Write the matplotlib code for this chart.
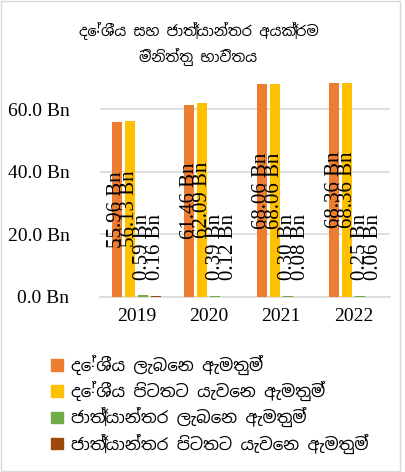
import numpy as np
import matplotlib
matplotlib.use("Agg")
import matplotlib.pyplot as plt
from matplotlib import font_manager
from matplotlib.patches import Patch, Rectangle

# Datos (miles de millones)
years = ["2019", "2020", "2021", "2022"]
dom_in = [55.96, 61.46, 68.06, 68.36]
dom_out = [56.13, 62.09, 68.06, 68.36]
intl_in = [0.59, 0.39, 0.30, 0.25]
intl_out = [0.16, 0.12, 0.08, 0.06]
series_names = [
    "දේශීය ලැබෙන ඇමතුම්",
    "දේශීය පිටතට යැවෙන ඇමතුම්",
    "ජාත්‍යාන්තර ලැබෙන ඇමතුම්",
    "ජාත්‍යාන්තර පිටතට යැවෙන ඇමතුම්",
]
title = "දේශීය සහ ජාත්‍යාන්තර අයක්‍රම\nමිනිත්තු භාවිතය"
colors = ["#ED7D31", "#FFC000", "#70AD47", "#9E480E"]

# Buscar una fuente con glifos cingaleses
sinhala_fams = []
for f in font_manager.fontManager.ttflist:
    if "sinhala" in f.name.lower() and f.name not in sinhala_fams:
        sinhala_fams.append(f.name)
text_family = sinhala_fams + ["DejaVu Sans"]
serif = "Liberation Serif"

fig = plt.figure(figsize=(4.05, 4.72), dpi=100)
ax = fig.add_axes([0.247, 0.371, 0.716, 0.464])

x = np.arange(len(years))
step = 0.18
width = 0.14
data = [dom_in, dom_out, intl_in, intl_out]
for k, (vals, col) in enumerate(zip(data, colors)):
    pos = x + (k - 1.5) * step
    ax.bar(pos, vals, width=width, color=col, zorder=3)
    for p, v in zip(pos, vals):
        ax.text(p, max(v / 2, 16), f"{v:.2f} Bn", rotation=90,
                ha="center", va="center", fontsize=15, family=serif, zorder=4)

ax.set_ylim(0, 70)
ax.set_xlim(-0.5, 3.5)
ax.set_yticks([0, 20, 40, 60])
ax.set_yticklabels([f"{t:.1f} Bn" for t in [0, 20, 40, 60]], family=serif, fontsize=14)
ax.set_xticks(x)
ax.set_xticklabels(years, family=serif, fontsize=14)
ax.tick_params(axis="y", length=0, pad=22)
ax.tick_params(axis="x", length=0, pad=8)
ax.grid(axis="y", color="#d9d9d9", linewidth=1.2, zorder=0)
for s in ["top", "right", "left"]:
    ax.spines[s].set_visible(False)
ax.spines["bottom"].set_color("#d9d9d9")
ax.spines["bottom"].set_linewidth(1.2)

fig.text(0.49, 0.907, title, ha="center", va="center", fontsize=10.5,
         family=text_family, linespacing=1.6)

handles = [Patch(color=c) for c in colors]
fig.legend(handles, series_names, loc="upper left", bbox_to_anchor=(0.11, 0.262),
           frameon=False, prop={"family": text_family, "size": 12},
           handlelength=0.7, handleheight=0.7, handletextpad=0.5, labelspacing=0.36,
           borderaxespad=0)

fig.add_artist(Rectangle((0.002, 0.002), 0.985, 0.996, transform=fig.transFigure,
                         fill=False, edgecolor="#d9d9d9", linewidth=1))

fig.savefig("out.png", dpi=100)
